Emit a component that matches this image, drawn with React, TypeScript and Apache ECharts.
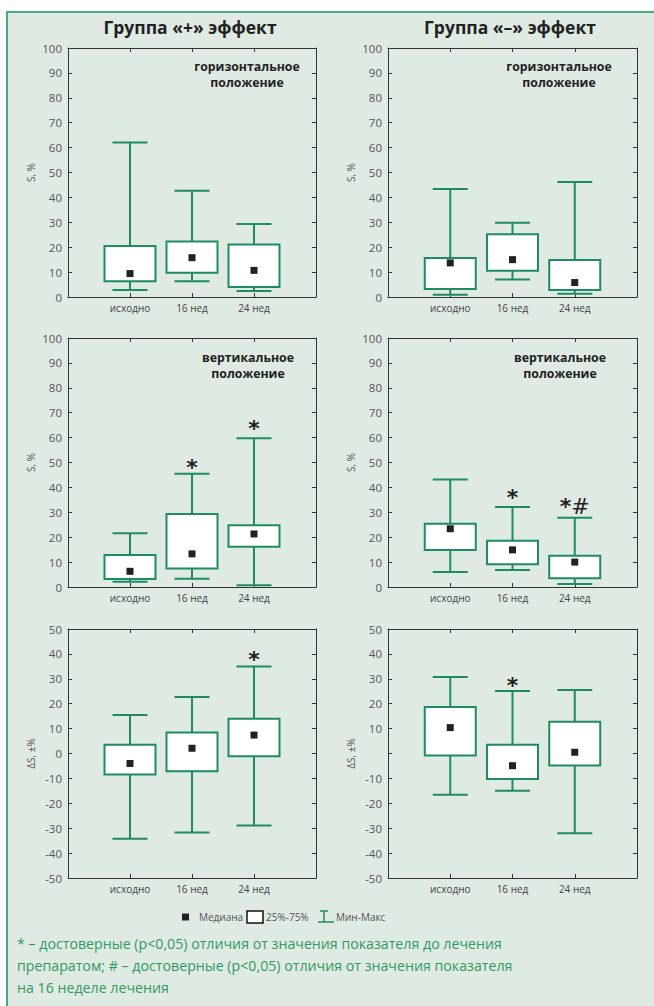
import React, { useEffect, useRef } from 'react';
import * as echarts from 'echarts';

const categories = ['исходно', '16 нед', '24 нед'];

// each box: [min, q1, median, q3, max]
const horizPlus = [
  [2.8, 6.3, 9.4, 20.5, 62.0],
  [6.3, 9.7, 15.8, 22.3, 42.7],
  [2.4, 4.0, 10.7, 21.1, 29.3],
];
const horizMinus = [
  [0.9, 3.2, 13.7, 15.7, 43.4],
  [7.0, 10.5, 15.0, 25.2, 29.8],
  [1.3, 2.8, 5.8, 14.9, 46.2],
];
const vertPlus = [
  [2.1, 3.2, 6.3, 12.9, 21.6],
  [3.3, 7.4, 13.3, 29.3, 45.5],
  [0.7, 16.2, 21.3, 24.8, 59.7],
];
const vertMinus = [
  [6.0, 14.9, 23.4, 25.4, 43.2],
  [6.8, 9.1, 14.9, 18.6, 32.1],
  [1.2, 3.5, 10.0, 12.6, 27.8],
];
const deltaPlus = [
  [-34.2, -8.4, -4.0, 3.5, 15.5],
  [-31.7, -7.1, 2.1, 8.4, 22.7],
  [-28.9, -1.1, 7.4, 14.0, 34.9],
];
const deltaMinus = [
  [-16.6, -0.8, 10.4, 18.7, 30.7],
  [-15.0, -10.2, -4.9, 3.5, 25.1],
  [-32.0, -4.8, 0.5, 12.8, 25.5],
];

// significance marks: [category index, value, mark]
const sigHorizPlus: [number, number, string][] = [];
const sigHorizMinus: [number, number, string][] = [];
const sigVertPlus: [number, number, string][] = [[1, 49.8, '*'], [2, 65.6, '*']];
const sigVertMinus: [number, number, string][] = [[1, 37.8, '*'], [2, 34.4, '*#']];
const sigDeltaPlus: [number, number, string][] = [[2, 39.6, '*']];
const sigDeltaMinus: [number, number, string][] = [[1, 29.5, '*']];

const groupTitles = ['Группа «+» эффект', 'Группа «–» эффект'];
const positionTitles = ['горизонтальное\nположение', 'вертикальное\nположение'];
const yNames = ['S, %', 'S, %', 'ΔS, ±%'];
const legendTexts = ['Медиана', '25%-75%', 'Мин-Макс'];
const footnoteLines = [
  '* – достоверные (p<0,05) отличия от значения показателя до лечения',
  'препаратом; # – достоверные (p<0,05) отличия от значения показателя',
  'на 16 неделе лечения',
];

const GREEN = '#1e8c5e';
const AXIS = '#333';
const FONT = '"Open Sans", "Noto Sans", sans-serif';

const panels = [
  { data: horizPlus, sig: sigHorizPlus, yMin: 0, yMax: 100, yName: yNames[0], hideZero: false },
  { data: horizMinus, sig: sigHorizMinus, yMin: 0, yMax: 100, yName: yNames[0], hideZero: false },
  { data: vertPlus, sig: sigVertPlus, yMin: 0, yMax: 100, yName: yNames[1], hideZero: false },
  { data: vertMinus, sig: sigVertMinus, yMin: 0, yMax: 100, yName: yNames[1], hideZero: false },
  { data: deltaPlus, sig: sigDeltaPlus, yMin: -50, yMax: 50, yName: yNames[2], hideZero: false },
  { data: deltaMinus, sig: sigDeltaMinus, yMin: -50, yMax: 50, yName: yNames[2], hideZero: true },
];

const gridLayout = [
  { left: 68, top: 48, width: 248, height: 249 },
  { left: 388, top: 48, width: 249, height: 249 },
  { left: 68, top: 338, width: 248, height: 249 },
  { left: 388, top: 338, width: 249, height: 249 },
  { left: 68, top: 629, width: 248, height: 249 },
  { left: 388, top: 629, width: 249, height: 249 },
];

function buildOption() {
  const grid: any[] = [];
  const xAxis: any[] = [];
  const yAxis: any[] = [];
  const series: any[] = [];

  panels.forEach((p, i) => {
    grid.push({ ...gridLayout[i], containLabel: false });
    const tick = { show: true, inside: true, length: 4, lineStyle: { color: AXIS } };
    const line = { show: true, onZero: false, lineStyle: { color: AXIS, width: 1 } };
    xAxis.push({
      type: 'value', gridIndex: i, min: 0, max: 4, interval: 1, position: 'bottom',
      axisLine: line, axisTick: tick, splitLine: { show: false },
      axisLabel: {
        formatter: (v: number) => categories[v - 1] ?? '',
        fontSize: 10, color: '#444', fontFamily: FONT, margin: 6,
      },
    });
    xAxis.push({
      type: 'value', gridIndex: i, min: 0, max: 4, interval: 1, position: 'top',
      axisLine: line, axisTick: tick, splitLine: { show: false }, axisLabel: { show: false },
    });
    yAxis.push({
      type: 'value', gridIndex: i, min: p.yMin, max: p.yMax, interval: 10, position: 'left',
      axisLine: line, axisTick: tick, splitLine: { show: false },
      axisLabel: {
        formatter: (v: number) => (p.hideZero && v === 0 ? '' : String(v)),
        fontSize: 11.5, color: '#555', fontFamily: FONT, margin: 6,
      },
      name: p.yName, nameLocation: 'middle', nameGap: 32, nameRotate: 90,
      nameTextStyle: { fontSize: 10, color: '#555', fontFamily: FONT },
    });
    yAxis.push({
      type: 'value', gridIndex: i, min: p.yMin, max: p.yMax, interval: 10, position: 'right',
      axisLine: line, axisTick: tick, splitLine: { show: false }, axisLabel: { show: false },
    });

    series.push({
      type: 'custom', xAxisIndex: i * 2, yAxisIndex: i * 2,
      data: p.data.map((d, k) => [k + 1, ...d]),
      encode: { x: 0, y: [1, 2, 3, 4, 5] },
      renderItem: (params: any, api: any) => {
        const x = api.value(0);
        const vals = [1, 2, 3, 4, 5].map((k) => api.value(k));
        const pts = vals.map((v) => api.coord([x, v]));
        const cx = pts[0][0];
        const boxW = 25.5;
        const capW = 17.5;
        const st = { stroke: GREEN, lineWidth: 2, fill: null };
        return {
          type: 'group',
          children: [
            { type: 'line', shape: { x1: cx, y1: pts[0][1], x2: cx, y2: pts[4][1] }, style: st },
            { type: 'line', shape: { x1: cx - capW, y1: pts[0][1], x2: cx + capW, y2: pts[0][1] }, style: st },
            { type: 'line', shape: { x1: cx - capW, y1: pts[4][1], x2: cx + capW, y2: pts[4][1] }, style: st },
            {
              type: 'rect',
              shape: { x: cx - boxW, y: pts[3][1], width: boxW * 2, height: pts[1][1] - pts[3][1] },
              style: { fill: '#ffffff', stroke: GREEN, lineWidth: 2 },
            },
            {
              type: 'rect',
              shape: { x: cx - 3.5, y: pts[2][1] - 3.5, width: 7, height: 7 },
              style: { fill: '#222' },
            },
          ],
        };
      },
    });

    if (p.sig.length) {
      series.push({
        type: 'custom', xAxisIndex: i * 2, yAxisIndex: i * 2,
        data: p.sig.map((s) => [s[0] + 1, s[1], s[2]]),
        encode: { x: 0, y: 1 },
        renderItem: (params: any, api: any) => {
          const pt = api.coord([api.value(0), api.value(1)]);
          const txt = p.sig[params.dataIndex][2];
          const rich = txt
            .split('')
            .map((c) => (c === '#' ? `{h|${c}}` : `{a|${c}}`))
            .join('');
          return {
            type: 'text', x: pt[0], y: pt[1] + 5,
            style: {
              text: rich, align: 'center', verticalAlign: 'middle',
              rich: {
                a: { fontSize: 22, fill: '#222', fontFamily: '"DejaVu Sans", sans-serif', fontWeight: 'bold', verticalAlign: 'middle' },
                h: { fontSize: 22, fill: '#222', fontFamily: '"DejaVu Sans", sans-serif', fontWeight: 'normal', verticalAlign: 'bottom' },
              },
            },
          };
        },
      });
    }
  });

  const graphic: any[] = [
    { type: 'text', x: 190, y: 27, style: { text: groupTitles[0], fontSize: 17.5, fontWeight: 'bold', fill: '#222', fontFamily: FONT, align: 'center', verticalAlign: 'middle' } },
    { type: 'text', x: 510, y: 27, style: { text: groupTitles[1], fontSize: 17.5, fontWeight: 'bold', fill: '#222', fontFamily: FONT, align: 'center', verticalAlign: 'middle' } },
  ];
  const annot = [
    { x: 247, y: 74, t: positionTitles[0] },
    { x: 559, y: 74, t: positionTitles[0] },
    { x: 248, y: 365, t: positionTitles[1] },
    { x: 560, y: 365, t: positionTitles[1] },
  ];
  annot.forEach((a) => {
    graphic.push({
      type: 'text', x: a.x, y: a.y,
      style: { text: a.t, fontSize: 12.3, lineHeight: 16, fontWeight: 'bold', fill: '#222', fontFamily: FONT, align: 'center', verticalAlign: 'middle' },
    });
  });

  // legend
  const ly = 917;
  graphic.push(
    { type: 'rect', shape: { x: 182, y: ly - 3.5, width: 7, height: 7 }, style: { fill: '#222' } },
    { type: 'text', x: 199, y: ly, style: { text: legendTexts[0], fontSize: 10, fill: '#555', fontFamily: FONT, verticalAlign: 'middle' } },
    { type: 'rect', shape: { x: 247, y: ly - 6, width: 16, height: 12 }, style: { fill: '#fff', stroke: '#111', lineWidth: 1.5 } },
    { type: 'text', x: 266, y: ly, style: { text: legendTexts[1], fontSize: 10, fill: '#555', fontFamily: FONT, verticalAlign: 'middle' } },
    { type: 'line', shape: { x1: 320, y1: ly - 6, x2: 328, y2: ly - 6 }, style: { stroke: GREEN, lineWidth: 1.5 } },
    { type: 'line', shape: { x1: 324, y1: ly - 6, x2: 324, y2: ly + 5 }, style: { stroke: GREEN, lineWidth: 1.5 } },
    { type: 'line', shape: { x1: 318, y1: ly + 5, x2: 334, y2: ly + 5 }, style: { stroke: GREEN, lineWidth: 1.5 } },
    { type: 'text', x: 336, y: ly, style: { text: legendTexts[2], fontSize: 10, fill: '#555', fontFamily: FONT, verticalAlign: 'middle' } },
  );
  footnoteLines.forEach((t, k) => {
    graphic.push({
      type: 'text', x: 17, y: 943 + k * 22,
      style: { text: t, fontSize: 14.2, fill: '#2f9a5f', fontFamily: FONT, verticalAlign: 'middle' },
    });
  });

  return { animation: false, grid, xAxis, yAxis, series, graphic };
}

export default function App() {
  const ref = useRef<HTMLDivElement>(null);
  useEffect(() => {
    if (!ref.current) return;
    const chart = echarts.init(ref.current, null, { renderer: 'svg' });
    chart.setOption(buildOption() as any);
    return () => chart.dispose();
  }, []);
  return (
    <div style={{ position: 'absolute', left: 0, top: 0, width: 654, height: 1006, background: '#fff' }}>
      <div
        style={{
          position: 'absolute', left: 6, top: 11, width: 648, height: 995,
          background: '#dfeae3', borderLeft: '2px solid #4aab80', borderTop: '2px solid #4aab80',
          boxSizing: 'border-box',
        }}
      />
      <div ref={ref} style={{ position: 'absolute', left: 0, top: 0, width: 654, height: 1006 }} />
    </div>
  );
}
